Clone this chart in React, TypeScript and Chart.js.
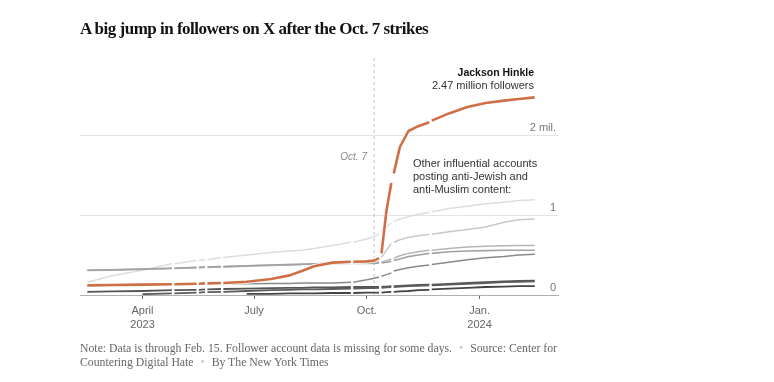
import React, { useEffect, useRef } from "react";
import { Chart, registerables } from "chart.js";

Chart.register(...registerables);

// Days since Feb. 15, 2023 (null values = missing days)
const days = [0, 20, 45, 69, 70, 71, 89, 90, 91, 96, 97, 98, 109, 110, 111, 130, 150, 165, 175, 185, 200, 215, 216, 217, 228, 234, 238, 239, 240, 244, 248, 249, 250, 255, 262, 270, 279, 280, 281, 295, 310, 325, 340, 352, 365];

// Followers, in millions
const hinkle = [0.12, 0.125, 0.13, 0.135, null, 0.135, 0.14, null, 0.14, 0.145, null, 0.145, 0.15, null, 0.15, 0.165, 0.2, 0.245, 0.3, 0.36, 0.405, 0.415, null, 0.415, 0.42, 0.43, 0.46, null, 0.52, 1.05, 1.4, null, 1.52, 1.85, 2.05, 2.11, 2.16, null, 2.18, 2.27, 2.35, 2.4, 2.43, 2.45, 2.47];
const acctA = [0.16, 0.24, 0.31, 0.39, null, 0.39, 0.43, null, 0.43, 0.44, null, 0.44, 0.47, null, 0.47, 0.5, 0.53, 0.55, 0.56, 0.58, 0.62, 0.66, null, 0.66, 0.7, 0.73, 0.76, null, 0.79, 0.85, 0.9, null, 0.92, 0.95, 0.98, 1.01, 1.03, null, 1.04, 1.08, 1.11, 1.14, 1.16, 1.18, 1.19];
const acctB = [0.31, 0.315, 0.325, 0.335, null, 0.335, 0.345, null, 0.345, 0.35, null, 0.35, 0.355, null, 0.355, 0.365, 0.375, 0.38, 0.385, 0.39, 0.395, 0.4, null, 0.4, 0.4, 0.4, 0.42, null, 0.47, 0.56, 0.64, null, 0.66, 0.69, 0.72, 0.74, 0.76, null, 0.76, 0.79, 0.82, 0.85, 0.91, 0.94, 0.95];
const acctC = [0.305, 0.31, 0.32, 0.33, null, 0.33, 0.34, null, 0.34, 0.345, null, 0.345, 0.35, null, 0.35, 0.36, 0.37, 0.375, 0.38, 0.385, 0.39, 0.395, null, 0.395, 0.395, 0.395, 0.4, null, 0.41, 0.43, 0.45, null, 0.46, 0.49, 0.52, 0.54, 0.56, null, 0.56, 0.58, 0.6, 0.61, 0.615, 0.62, 0.62];
const acctD = [0.31, 0.315, 0.325, 0.335, null, 0.335, 0.345, null, 0.345, 0.35, null, 0.35, 0.355, null, 0.355, 0.365, 0.375, 0.38, 0.385, 0.39, 0.395, 0.4, null, 0.4, 0.4, 0.4, 0.4, null, 0.4, 0.41, 0.42, null, 0.43, 0.45, 0.48, 0.5, 0.52, null, 0.52, 0.54, 0.55, 0.555, 0.56, 0.56, 0.56];
const acctE = [0.115, 0.12, 0.125, 0.13, null, 0.13, 0.135, null, 0.135, 0.135, null, 0.135, 0.14, null, 0.14, 0.14, 0.145, 0.145, 0.15, 0.15, 0.15, 0.16, null, 0.16, 0.19, 0.21, 0.225, null, 0.235, 0.255, 0.275, null, 0.3, 0.32, 0.34, 0.36, 0.375, null, 0.38, 0.41, 0.44, 0.465, 0.48, 0.5, 0.51];
const acctF = [0.04, 0.045, 0.05, 0.06, null, 0.06, 0.065, null, 0.065, 0.07, null, 0.07, 0.075, null, 0.075, 0.08, 0.085, 0.09, 0.09, 0.095, 0.095, 0.1, null, 0.1, 0.1, 0.1, 0.1, null, 0.105, 0.105, 0.11, null, 0.11, 0.115, 0.12, 0.125, 0.13, null, 0.13, 0.14, 0.15, 0.16, 0.17, 0.175, 0.18];
const acctG = [null, null, 0.01, 0.02, null, 0.02, 0.03, null, 0.03, 0.035, null, 0.035, 0.04, null, 0.04, 0.05, 0.06, 0.065, 0.07, 0.07, 0.075, 0.08, null, 0.08, 0.085, 0.085, 0.09, null, 0.09, 0.095, 0.1, null, 0.1, 0.105, 0.11, 0.115, 0.12, null, 0.12, 0.13, 0.14, 0.15, 0.16, 0.165, 0.17];
const acctH = [null, null, null, null, null, null, null, null, null, null, null, null, null, null, null, 0.015, 0.015, 0.02, 0.02, 0.02, 0.025, 0.025, null, 0.025, 0.03, 0.03, 0.03, null, 0.03, 0.035, 0.04, null, 0.04, 0.045, 0.05, 0.06, 0.065, null, 0.07, 0.08, 0.09, 0.1, 0.105, 0.11, 0.11];

const xTickDays = [45, 136, 228, 320];
const xTickLabels = [["April", "2023"], "July", "Oct.", ["Jan.", "2024"]];
const yTickValues = [0, 1, 2, 3];
const yTickLabels = ["0", "1", "2 mil.", ""];
const oct7Day = 234;

const SANS = "'Liberation Sans', Arial, sans-serif";
const SERIF = "'Liberation Serif', 'Times New Roman', serif";

function toPoints(values: (number | null)[]) {
  return days.map((d, i) => ({ x: d, y: values[i] }));
}

export default function App() {
  const ref = useRef<HTMLCanvasElement | null>(null);

  useEffect(() => {
    if (!ref.current) return;
    const grey = (values: (number | null)[], color: string, width: number, order: number) => ({
      data: toPoints(values),
      borderColor: color,
      borderWidth: width,
      order,
    });
    const chart = new Chart(ref.current, {
      type: "line",
      data: {
        datasets: [
          { data: toPoints(hinkle), borderColor: "#cf6f45", borderWidth: 2.6, order: 0 },
          { data: toPoints(hinkle), borderColor: "rgba(255,255,255,0.85)", borderWidth: 4.5, order: 1 },
          grey(acctH, "#444444", 1.8, 2),
          grey(acctG, "#5c5c5c", 1.8, 3),
          grey(acctF, "#555555", 1.8, 4),
          grey(acctE, "#8a8a8a", 1.5, 5),
          grey(acctD, "#a2a2a2", 1.6, 6),
          grey(acctC, "#b5b5b5", 1.5, 7),
          grey(acctB, "#c8c8c8", 1.5, 8),
          grey(acctA, "#dddddd", 1.5, 9),
          {
            data: [
              { x: oct7Day, y: 0 },
              { x: oct7Day, y: 3 },
            ],
            borderColor: "#c4c4c4",
            borderWidth: 1,
            borderDash: [3, 3],
            order: 10,
          },
        ],
      },
      options: {
        responsive: false,
        animation: false,
        devicePixelRatio: 1,
        spanGaps: false,
        layout: { padding: { left: 80, right: 216, top: 55, bottom: 0 } },
        plugins: { legend: { display: false }, tooltip: { enabled: false } },
        elements: {
          point: { radius: 0, hoverRadius: 0 },
          line: { tension: 0, borderCapStyle: "butt", borderJoinStyle: "round", fill: false },
        },
        scales: {
          x: {
            type: "linear",
            min: -6,
            max: 384,
            afterBuildTicks: (s: any) => {
              s.ticks = xTickDays.map((v) => ({ value: v }));
            },
            afterFit: (s: any) => {
              s.height = 87;
            },
            ticks: {
              callback: (_v: any, i: number) => xTickLabels[i],
              color: "#666",
              font: { family: SANS, size: 11, lineHeight: 1.3 },
              padding: 5,
              maxRotation: 0,
              autoSkip: false,
            },
            grid: { drawOnChartArea: false, drawTicks: true, tickLength: 4, color: "#666" },
            border: { color: "#b0b0b0", width: 1 },
          },
          y: {
            position: "right",
            min: 0,
            max: 3,
            afterBuildTicks: (s: any) => {
              s.ticks = yTickValues.map((v) => ({ value: v }));
            },
            afterFit: (s: any) => {
              s.width = 0;
            },
            ticks: {
              mirror: true,
              labelOffset: -7.5,
              padding: -2,
              callback: (_v: any, i: number) => yTickLabels[i],
              color: "#777",
              font: { family: SANS, size: 11 },
            },
            grid: {
              drawTicks: false,
              color: (ctx: any) =>
                ctx.tick && (ctx.tick.value === 1 || ctx.tick.value === 2) ? "#e4e4e4" : "rgba(0,0,0,0)",
            },
            border: { display: false },
          },
        },
      },
    } as any);
    return () => chart.destroy();
  }, []);

  const abs = (s: React.CSSProperties): React.CSSProperties => ({ position: "absolute", whiteSpace: "nowrap", ...s });
  const dot = <span style={{ color: "#ccc", margin: "0 7px" }}>•</span>;

  return (
    <div style={{ position: "fixed", left: 0, top: 0, width: 774, height: 382, background: "#fff", overflow: "hidden" }}>
      <canvas ref={ref} width={774} height={382} style={{ position: "absolute", left: 0, top: 0, width: 774, height: 382 }} />
      <div style={abs({ left: 80, top: 19, fontFamily: SERIF, fontWeight: 700, fontSize: 17, lineHeight: "20px", color: "#121212", letterSpacing: "-0.5px" })}>
        A big jump in followers on X after the Oct. 7 strikes
      </div>
      <div style={abs({ right: 240, top: 65.5, fontFamily: SANS, fontWeight: 700, fontSize: 10.5, lineHeight: "13px", color: "#121212", textAlign: "right" })}>
        Jackson Hinkle
      </div>
      <div style={abs({ right: 240, top: 78.5, fontFamily: SANS, fontSize: 11, lineHeight: "13px", color: "#333", textAlign: "right" })}>
        2.47 million followers
      </div>
      <div style={abs({ left: 413, top: 156.5, fontFamily: SANS, fontSize: 11, lineHeight: "13px", color: "#333" })}>
        Other influential accounts
        <br />
        posting anti-Jewish and
        <br />
        anti-Muslim content:
      </div>
      <div style={abs({ right: 407, top: 151, fontFamily: SANS, fontStyle: "italic", fontSize: 10, lineHeight: "12px", color: "#888", textAlign: "right" })}>
        Oct. 7
      </div>
      <div style={abs({ left: 80, top: 341.5, fontFamily: SERIF, fontSize: 11.75, lineHeight: "14.5px", color: "#666" })}>
        Note: Data is through Feb. 15. Follower account data is missing for some days.{dot}Source: Center for
        <br />
        Countering Digital Hate{dot}By The New York Times
      </div>
    </div>
  );
}
